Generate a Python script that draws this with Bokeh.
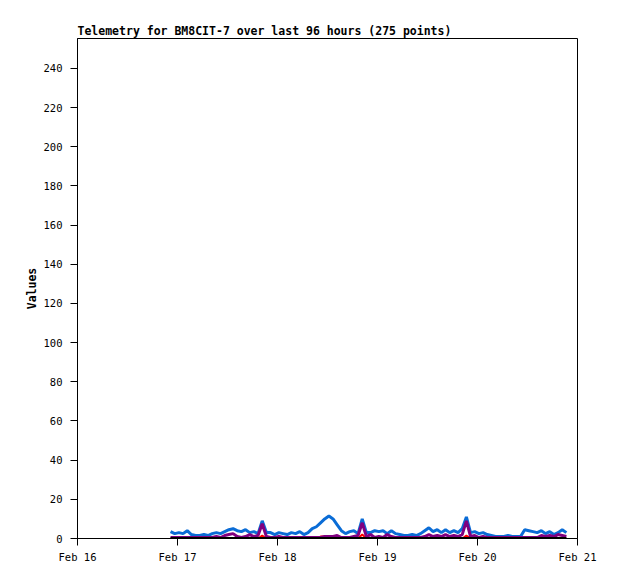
from datetime import datetime, timedelta
from bokeh.plotting import figure
from bokeh.models import Range1d, DatetimeTickFormatter, FixedTicker, SingleIntervalTicker
from bokeh.embed import file_html
from bokeh.resources import INLINE

title_text = "Telemetry for BM8CIT-7 over last 96 hours (275 points)"
y_label = "Values"
start_time = datetime(2024, 2, 16, 22, 20)
x_start = datetime(2024, 2, 16)
x_end = datetime(2024, 2, 21)
y_max = 255.3

blue_values = [3.5, 2.5, 3, 2.5, 4, 2, 1.5, 1.5, 2, 1.5,
               2.5, 3, 2.5, 3.5, 4.5, 5, 4, 3.5, 4.5, 3,
               3.5, 2.5, 9, 3, 3, 2, 3, 2.5, 2, 3,
               2.5, 3.5, 2, 3, 5, 6, 8, 10, 11.5, 10,
               7, 4, 2.5, 3.5, 4, 2.5, 10, 3, 3, 4,
               3.5, 4, 2.5, 4, 2.5, 2, 1.5, 1.5, 2, 1.5,
               2.5, 4, 5.5, 3.5, 4.5, 3, 4.5, 3, 4, 3,
               5, 11, 3, 3.5, 2.5, 3, 2, 1.5, 1, 1,
               1, 1.5, 1, 1, 1, 4.5, 4, 3.5, 3, 4,
               2.5, 3.5, 2, 3, 4.5, 3]
purple_values = [0.5, 0.5, 0.5, 0.5, 0.5, 0.5, 0.5, 0.5, 0.5, 0.5,
                 0.5, 1, 0.5, 1.5, 2, 2.5, 1, 0.5, 1, 2,
                 1, 1.5, 7.5, 1, 0.5, 0.5, 1, 0.5, 0.5, 0.5,
                 0.5, 0.5, 0.5, 0.5, 0.5, 0.5, 0.5, 1, 1, 1,
                 1.5, 0.5, 0.5, 0.5, 1, 1.5, 8, 1, 2, 0.5,
                 1, 0.5, 2, 1, 0.5, 0.5, 0.5, 0.5, 0.5, 0.5,
                 0.5, 1, 2, 1, 1.5, 1, 2, 1, 1.5, 1,
                 2, 9, 1, 1.5, 0.5, 1, 0.5, 0.5, 0.5, 0.5,
                 0.5, 0.5, 0.5, 0.5, 0.5, 0.5, 0.5, 0.5, 0.5, 1.5,
                 1, 1.5, 1, 2, 1.5, 1]
red_values = [0, 0, 0, 0, 0, 0, 0, 0, 0, 0,
              0, 0, 0, 0, 0, 0, 0, 0, 0, 0,
              0, 0, 1.5, 0, 0, 0, 0, 0, 0, 0,
              0, 0, 0, 0, 0, 0, 1, 1, 1, 0.5,
              0, 0, 0, 0, 0, 0, 2, 0, 0, 0,
              0, 0, 0, 0, 0, 0, 0, 0, 0, 0,
              0, 0, 0, 0, 0, 0, 0, 0, 0, 0,
              0, 1.5, 0, 0, 0, 0, 0, 0, 0, 0,
              0, 0, 0, 0.5, 0.5, 0.5, 0.5, 0.5, 0, 0,
              0, 0, 0, 0, 0, 0]
black_values = [0] * len(blue_values)

times = [start_time + timedelta(hours=i) for i in range(len(blue_values))]

p = figure(frame_width=500, frame_height=500, output_backend="svg", toolbar_location=None,
           x_axis_type="datetime", title=title_text,
           x_range=Range1d(x_start, x_end), y_range=Range1d(0, y_max),
           min_border_left=77, min_border_right=31, min_border_top=38, min_border_bottom=33)

p.line(times, blue_values, line_color="#0a6cd6", line_width=3)
p.line(times, red_values, line_color="#ff0000", line_width=2)
p.line(times, purple_values, line_color="#800080", line_width=3)
p.line(times, black_values, line_color="#000000", line_width=3)

p.xgrid.visible = False
p.ygrid.visible = False
p.outline_line_color = "black"
p.outline_line_width = 1
p.background_fill_color = "white"
p.border_fill_color = "white"

p.title.text_font = "DejaVu Sans Mono"
p.title.text_font_size = "11.5px"
p.title.text_font_style = "bold"
p.title.text_color = "black"
p.title.align = "left"
p.title.offset = 0
p.title.standoff = 2

tick_days = [datetime(2024, 2, d) for d in range(16, 22)]
p.xaxis.ticker = FixedTicker(ticks=[t.timestamp() * 1000 for t in tick_days])
p.xaxis.formatter = DatetimeTickFormatter(days="%b %d", months="%b %d", hours="%b %d")
p.yaxis.ticker = SingleIntervalTicker(interval=20)

for ax in (p.xaxis[0], p.yaxis[0]):
    ax.axis_line_color = "black"
    ax.major_tick_line_color = "black"
    ax.major_tick_out = 7
    ax.major_tick_in = 0
    ax.minor_tick_line_color = None
    ax.major_label_text_font = "DejaVu Sans Mono"
    ax.major_label_text_font_size = "10.5px"
    ax.major_label_text_color = "black"

p.xaxis.major_label_standoff = 5
p.yaxis.major_label_standoff = 8
p.yaxis.axis_label = y_label
p.yaxis.axis_label_text_font = "DejaVu Sans Mono"
p.yaxis.axis_label_text_font_size = "11.5px"
p.yaxis.axis_label_text_font_style = "bold"
p.yaxis.axis_label_text_color = "black"
p.yaxis.axis_label_standoff = 2

open("out.html", "w").write(file_html(p, INLINE))
